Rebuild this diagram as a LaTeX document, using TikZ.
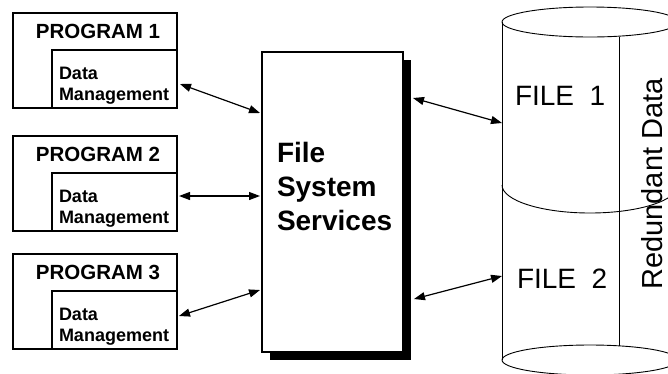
\documentclass[tikz,border=0pt]{standalone}
\usepackage{fontspec}
\setmainfont{Liberation Sans}
\usetikzlibrary{arrows.meta,shadows}

\begin{document}
\begin{tikzpicture}[x=1pt,y=-1pt,
	every node/.style={inner sep=0pt, outer sep=0pt},
	progbox/.style={draw, line width=1.2pt, anchor=north west, minimum width=164pt, minimum height=95pt},
	dmbox/.style={draw, line width=1.2pt, anchor=south east, minimum width=125pt, minimum height=58pt},
	progtext/.style={anchor=base, font=\fontsize{20.5}{24}\selectfont\bfseries},
	dmtext/.style={anchor=base west, align=left, font=\fontsize{18}{21}\selectfont\bfseries},
	fssbox/.style={draw, fill=white, line width=1.2pt, anchor=north west, minimum width=141pt, minimum height=300pt,
		drop shadow={shadow xshift=8pt, shadow yshift=-8pt, fill=black, opacity=1}},
	fsstext/.style={anchor=base west, align=left, font=\fontsize{28}{34}\selectfont\bfseries},
	filetext/.style={anchor=base west, font=\fontsize{28}{34}\selectfont},
	cylline/.style={line width=0.9pt},
	link/.style={<->, line width=1.2pt, >={Triangle[length=11pt,width=8pt]}}]
\useasboundingbox (0,0) rectangle (668,373);
\clip (0,0) rectangle (668,373);

\node[progbox] (P1) at (13,13) {};
\node[dmbox] (D1) at (P1.south east) {};
\node[progtext] (P1t) at ([shift={(3,25)}]P1.north) {PROGRAM 1};
\node[dmtext] (D1t) at ([shift={(7,-8)}]D1.south west) {Data\\Management};

\node[progbox] (P2) at (13,136) {};
\node[dmbox] (D2) at (P2.south east) {};
\node[progtext] (P2t) at ([shift={(3,25)}]P2.north) {PROGRAM 2};
\node[dmtext] (D2t) at ([shift={(7,-8)}]D2.south west) {Data\\Management};

\node[progbox] (P3) at (13,254) {};
\node[dmbox] (D3) at (P3.south east) {};
\node[progtext] (P3t) at ([shift={(3,25)}]P3.north) {PROGRAM 3};
\node[dmtext] (D3t) at ([shift={(7,-8)}]D3.south west) {Data\\Management};

\node[fssbox] (FSS) at (262,52) {};
\node[fsstext] (FSSt) at ([shift={(15,178)}]FSS.north west) {File\\System\\Services};

\coordinate (cyl) at (502,22);
\draw[cylline] (cyl) -- ++(0,338);
\draw[cylline] (590,22) ellipse [x radius=88, y radius=15];
\draw[cylline] (619,37) -- (619,346);
\draw[cylline] (502,185) arc[start angle=180, end angle=0, x radius=88, y radius=28];
\draw[cylline] (590,360) ellipse [x radius=88, y radius=15];
\node[filetext] (F1) at (515,105) {FILE\ \ 1};
\node[filetext] (F2) at (517,288) {FILE\ \ 2};
\node[filetext, anchor=base, rotate=90, font=\fontsize{29}{34}\selectfont] (RD) at (662,184) {Redundant Data};

\draw[link] ([shift={(3,5)}]D1.east) -- ([shift={(-2,61)}]FSS.north west);
\draw[link] ([shift={(2,-6)}]D2.east) -- ([shift={(-2,144)}]FSS.north west);
\draw[link] ([shift={(2,-4)}]D3.east) -- ([shift={(-2,238)}]FSS.north west);
\draw[link] ([shift={(10,46)}]FSS.north east) -- ([shift={(0,101)}]cyl);
\draw[link] ([shift={(11,247)}]FSS.north east) -- ([shift={(0,254)}]cyl);
\end{tikzpicture}
\end{document}
